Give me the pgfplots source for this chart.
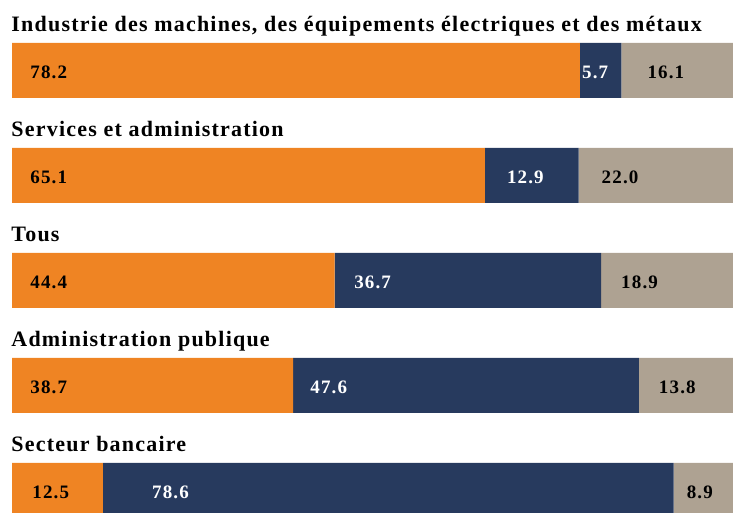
\documentclass[border=0pt]{standalone}
\usepackage{pgfplots}
\pgfplotsset{compat=1.18}
\usepackage{fontspec}
\setmainfont{Liberation Serif}
\newfontfamily\ttlfont{Liberation Serif}[LetterSpace=5.5]
\newfontfamily\lblfont{Liberation Serif}[LetterSpace=6]
\definecolor{cOrange}{RGB}{239,132,35}
\definecolor{cNavy}{RGB}{39,58,94}
\definecolor{cTaupe}{RGB}{174,162,146}
\begin{document}
\begin{tikzpicture}[
  ttl/.style={anchor=base west, inner sep=0pt, font=\ttlfont\bfseries\fontsize{22}{26}\selectfont, text=black},
  lbk/.style={anchor=west, inner sep=0pt, font=\lblfont\bfseries\fontsize{19}{22}\selectfont, text=black},
  lbw/.style={anchor=west, inner sep=0pt, font=\lblfont\bfseries\fontsize{19}{22}\selectfont, text=white},
]
\useasboundingbox (0,0) rectangle (733pt,513pt);
\begin{axis}[
  at={(0,0)}, anchor=south west,
  scale only axis,
  width=733pt, height=513pt,
  xmin=-1.687, xmax=99.28,
  ymin=-0.2143, ymax=4.671,
  axis lines=none,
  xbar stacked,
  bar width=55pt,
  clip=true,
]
\addplot[fill=cOrange, draw=none] coordinates {(78.2,4) (65.1,3) (44.4,2) (38.7,1) (12.5,0)};
\addplot[fill=cNavy, draw=none] coordinates {(5.7,4) (12.9,3) (36.7,2) (47.6,1) (78.6,0)};
\addplot[fill=cTaupe, draw=none] coordinates {(16.1,4) (22.0,3) (18.9,2) (13.8,1) (8.9,0)};
\coordinate (T4) at (axis cs:0,4);
\coordinate (T3) at (axis cs:0,3);
\coordinate (T2) at (axis cs:0,2);
\coordinate (T1) at (axis cs:0,1);
\coordinate (T0) at (axis cs:0,0);
\coordinate (A4) at (axis cs:78.2,4);
\coordinate (B4) at (axis cs:83.9,4);
\coordinate (A3) at (axis cs:65.1,3);
\coordinate (B3) at (axis cs:78.0,3);
\coordinate (A2) at (axis cs:44.4,2);
\coordinate (B2) at (axis cs:81.1,2);
\coordinate (A1) at (axis cs:38.7,1);
\coordinate (B1) at (axis cs:86.3,1);
\coordinate (A0) at (axis cs:12.5,0);
\coordinate (B0) at (axis cs:91.1,0);
\end{axis}
% titles
\foreach \r/\t in {4/{Industrie des machines, des équipements électriques et des métaux},3/{Services et administration},2/{Tous},1/{Administration publique},0/{Secteur bancaire}}
  \node[ttl] at ([xshift=-1pt, yshift=38.5pt]T\r) {\t};
% row 1
\node[lbk] at ([xshift=18pt, yshift=-1.5pt]T4) {78.2};
\node[lbw] at ([xshift=2pt, yshift=-1.5pt]A4) {5.7};
\node[lbk] at ([xshift=26pt, yshift=-1.5pt]B4) {16.1};
% row 2
\node[lbk] at ([xshift=18pt, yshift=-1.5pt]T3) {65.1};
\node[lbw] at ([xshift=22pt, yshift=-1.5pt]A3) {12.9};
\node[lbk] at ([xshift=23pt, yshift=-1.5pt]B3) {22.0};
% row 3
\node[lbk] at ([xshift=18pt, yshift=-1.5pt]T2) {44.4};
\node[lbw] at ([xshift=19.5pt, yshift=-1.5pt]A2) {36.7};
\node[lbk] at ([xshift=20pt, yshift=-1.5pt]B2) {18.9};
% row 4
\node[lbk] at ([xshift=18pt, yshift=-1.5pt]T1) {38.7};
\node[lbw] at ([xshift=17pt, yshift=-1.5pt]A1) {47.6};
\node[lbk] at ([xshift=20pt, yshift=-1.5pt]B1) {13.8};
% row 5
\node[lbk] at ([xshift=20pt, yshift=-1.5pt]T0) {12.5};
\node[lbw] at ([xshift=49pt, yshift=-1.5pt]A0) {78.6};
\node[lbk] at ([xshift=13pt, yshift=-1.5pt]B0) {8.9};
\end{tikzpicture}
\end{document}
